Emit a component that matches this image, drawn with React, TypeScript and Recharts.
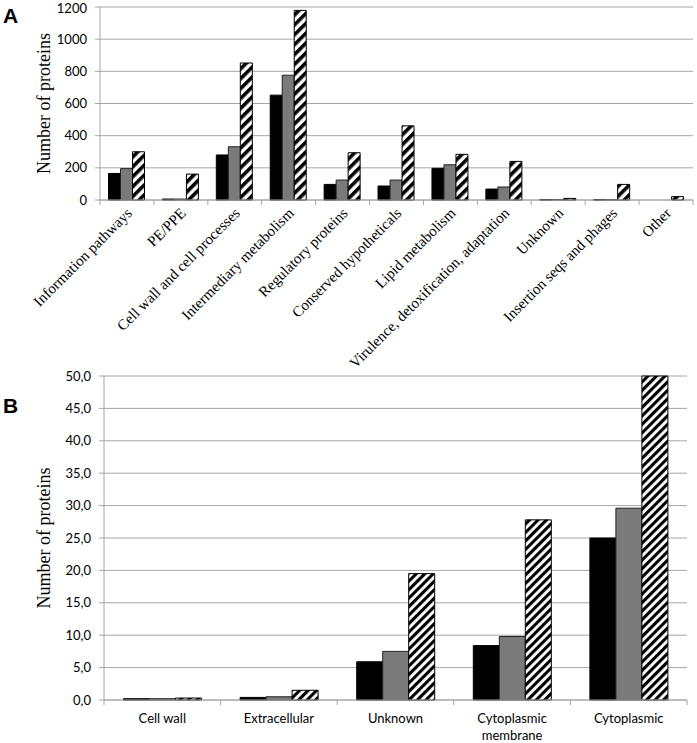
import React from 'react'
import { Bar, BarChart, CartesianGrid, Label, XAxis, YAxis } from 'recharts'

// panel A: functional categories
const categoriesA = [
  'Information pathways',
  'PE/PPE',
  'Cell wall and cell processes',
  'Intermediary metabolism',
  'Regulatory proteins',
  'Conserved hypotheticals',
  'Lipid metabolism',
  'Virulence, detoxification, adaptation',
  'Unknown',
  'Insertion seqs and phages',
  'Other',
]
const blackA = [165, 6, 280, 652, 97, 87, 197, 68, 2, 2, 0]
const grayA = [195, 6, 331, 776, 124, 124, 219, 81, 3, 2, 0]
const hatchA = [300, 161, 852, 1179, 294, 461, 284, 240, 10, 97, 21]
const ticksA = [0, 200, 400, 600, 800, 1000, 1200]

// panel B: localisation
const categoriesB = ['Cell wall', 'Extracellular', 'Unknown', 'Cytoplasmic membrane', 'Cytoplasmic']
const blackB = [0.2, 0.4, 5.9, 8.4, 25.0]
const grayB = [0.2, 0.5, 7.5, 9.8, 29.6]
const hatchB = [0.3, 1.5, 19.5, 27.8, 50.0]
const ticksB = [0, 5, 10, 15, 20, 25, 30, 35, 40, 45, 50]

const dataA = categoriesA.map((name, i) => ({ name, black: blackA[i], gray: grayA[i], hatch: hatchA[i] }))
const dataB = categoriesB.map((name, i) => ({ name, black: blackB[i], gray: grayB[i], hatch: hatchB[i] }))

const axisGray = '#a6a6a6'
const sans = 'Lato, "Liberation Sans", sans-serif'
const serif = '"Liberation Serif", "DejaVu Serif", serif'

const plotWidthA = 697 - 100 - 4
const plotWidthB = 697 - 104 - 10

const TickA = ({ x, y, payload, index }: any) => {
  const band = plotWidthA / categoriesA.length
  return (
    <g>
      <line x1={x - band / 2} x2={x - band / 2} y1={y} y2={y + 5} stroke={axisGray} />
      {index === categoriesA.length - 1 && (
        <line x1={x + band / 2} x2={x + band / 2} y1={y} y2={y + 5} stroke={axisGray} />
      )}
      <text
        x={x + 6}
        y={y + 14}
        transform={`rotate(-45, ${x + 6}, ${y + 14})`}
        textAnchor="end"
        fontFamily={serif}
        fontSize={15}
        fill="#000"
      >
        {payload.value}
      </text>
    </g>
  )
}

const TickB = ({ x, y, payload, index }: any) => {
  const band = plotWidthB / categoriesB.length
  const label = String(payload.value)
  // only the long label wraps onto two lines
  const lines = label.length > 15 ? label.split(' ') : [label]
  return (
    <g>
      <line x1={x - band / 2} x2={x - band / 2} y1={y} y2={y + 5} stroke={axisGray} />
      {index === categoriesB.length - 1 && (
        <line x1={x + band / 2} x2={x + band / 2} y1={y} y2={y + 5} stroke={axisGray} />
      )}
      <text x={x} y={y + 23} textAnchor="middle" fontFamily={sans} fontSize={13} fill="#000">
        {lines.map((l: string, i: number) => (
          <tspan key={i} x={x} dy={i === 0 ? 0 : 17}>{l}</tspan>
        ))}
      </text>
    </g>
  )
}

const YTitle = ({ viewBox }: any) => {
  const cx = 44
  const cy = viewBox.y + viewBox.height / 2
  return (
    <text
      x={cx}
      y={cy}
      transform={`rotate(-90, ${cx}, ${cy})`}
      textAnchor="middle"
      dominantBaseline="central"
      fontFamily={serif}
      fontSize={18}
      fill="#000"
    >
      Number of proteins
    </text>
  )
}

const fmtB = (v: number) => v.toFixed(1).replace('.', ',')

export default function App() {
  return (
    <div style={{ position: 'absolute', left: 0, top: 0, width: 697, height: 743, background: '#fff' }}>
      <svg width={0} height={0} style={{ position: 'absolute' }}>
        <defs>
          <pattern id="hatchA" patternUnits="userSpaceOnUse" width={7} height={7} patternTransform="rotate(45)">
            <rect width={7} height={7} fill="#fff" />
            <rect width={3.6} height={7} fill="#000" />
          </pattern>
          <pattern id="hatchB" patternUnits="userSpaceOnUse" width={6} height={6} patternTransform="rotate(45)">
            <rect width={6} height={6} fill="#fff" />
            <rect width={3.1} height={6} fill="#000" />
          </pattern>
        </defs>
      </svg>

      <div style={{ position: 'absolute', left: 3, top: 4, fontFamily: '"Liberation Sans", Arial, sans-serif', fontWeight: 700, fontSize: 21 }}>A</div>
      <div style={{ position: 'absolute', left: 3, top: 394, fontFamily: '"Liberation Sans", Arial, sans-serif', fontWeight: 700, fontSize: 21 }}>B</div>

      <div style={{ position: 'absolute', left: 0, top: 0 }}>
        <BarChart
          width={697}
          height={400}
          data={dataA}
          margin={{ top: 7, right: 4, bottom: 0, left: 0 }}
          barCategoryGap={8.5}
          barGap={0}
        >
          <CartesianGrid vertical={false} stroke={axisGray} />
          <XAxis
            dataKey="name"
            height={200}
            interval={0}
            tickLine={false}
            tickSize={0}
            tickMargin={0}
            axisLine={{ stroke: axisGray }}
            tick={<TickA />}
          />
          <YAxis
            width={100}
            domain={[0, 1200]}
            ticks={ticksA}
            tickSize={5}
            tickMargin={8}
            axisLine={{ stroke: axisGray }}
            tickLine={{ stroke: axisGray }}
            tick={{ fontFamily: sans, fontSize: 13, fill: '#000' }}
          >
            <Label content={<YTitle />} />
          </YAxis>
          <Bar dataKey="black" fill="#000" stroke="#000" strokeWidth={1} isAnimationActive={false} />
          <Bar dataKey="gray" fill="#7a7a7a" stroke="#222" strokeWidth={1} isAnimationActive={false} />
          <Bar dataKey="hatch" fill="url(#hatchA)" stroke="#000" strokeWidth={1} isAnimationActive={false} />
        </BarChart>
      </div>

      <div style={{ position: 'absolute', left: 0, top: 360 }}>
        <BarChart
          width={697}
          height={383}
          data={dataB}
          margin={{ top: 16, right: 10, bottom: 0, left: 0 }}
          barCategoryGap={19.5}
          barGap={0}
        >
          <CartesianGrid vertical={false} stroke={axisGray} />
          <XAxis
            dataKey="name"
            height={43}
            interval={0}
            tickLine={false}
            tickSize={0}
            tickMargin={0}
            axisLine={{ stroke: axisGray }}
            tick={<TickB />}
          />
          <YAxis
            width={104}
            domain={[0, 50]}
            ticks={ticksB}
            tickFormatter={fmtB}
            tickSize={5}
            tickMargin={8}
            axisLine={{ stroke: axisGray }}
            tickLine={{ stroke: axisGray }}
            tick={{ fontFamily: sans, fontSize: 13, fill: '#000' }}
          >
            <Label content={<YTitle />} />
          </YAxis>
          <Bar dataKey="black" fill="#000" stroke="#000" strokeWidth={1} isAnimationActive={false} />
          <Bar dataKey="gray" fill="#7a7a7a" stroke="#222" strokeWidth={1} isAnimationActive={false} />
          <Bar dataKey="hatch" fill="url(#hatchB)" stroke="#000" strokeWidth={1} isAnimationActive={false} />
        </BarChart>
      </div>
    </div>
  )
}
